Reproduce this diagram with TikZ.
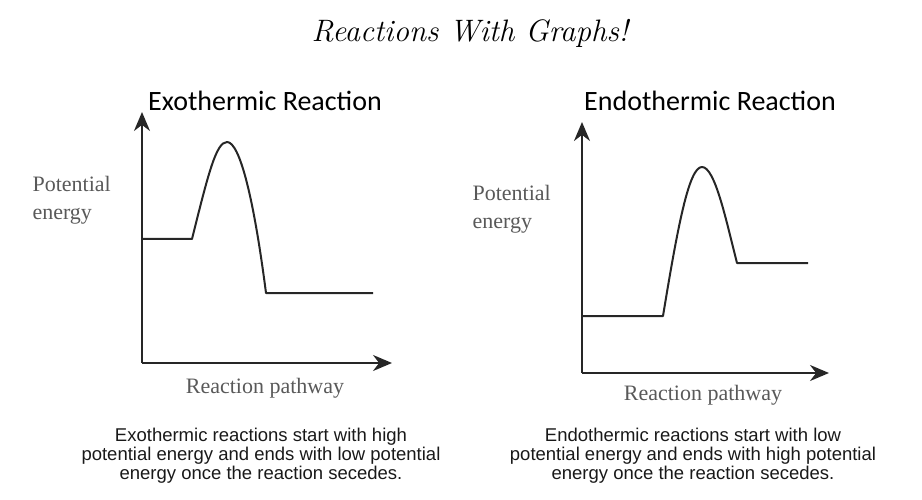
\documentclass[tikz,border=0pt]{standalone}
\usepackage{fontspec}
\usepackage{tikz}
\usetikzlibrary{arrows.meta, positioning}
\newfontfamily\headfont{Carlito}
\newfontfamily\axisfont{Liberation Serif}
\newfontfamily\notefont{Liberation Sans}

\begin{document}
\begin{tikzpicture}[x=1pt, y=-1pt,
    axis/.style={line width=2.4pt, draw=black!85, -{Stealth[length=19pt, width=16pt]}},
    curve/.style={line width=2pt, draw=black!85, line join=round},
    charttitle/.style={font=\headfont\fontsize{28}{32}\selectfont},
    axislabel/.style={font=\axisfont\fontsize{22}{28}\selectfont, text=black!65, align=left, anchor=west},
    pathlabel/.style={font=\axisfont\fontsize{22}{26}\selectfont, text=black!65},
    note/.style={font=\notefont\fontsize{18.5}{19}\selectfont, align=center, text=black!90}]

\useasboundingbox (0,0) rectangle (922,500);

% ── Heading ──────────────────────────────────────────────────────
\node[font=\itshape\fontsize{31}{34}\selectfont] (heading) at (470, 33) {Reactions With Graphs!};

% ── EXOTHERMIC ───────────────────────────────────────────────────
\node[charttitle] (exotitle) at (265, 101) {Exothermic Reaction};
\coordinate (exoO) at (142, 363);
\coordinate (exoY) at (142, 112);
\coordinate (exoX) at (392, 363);
\draw[axis] (exoO) -- (exoY);
\draw[axis] (exoO) -- (exoX);

% Energy profile
\coordinate (exoA) at (142, 239);
\coordinate (exoB) at (192, 239);
\coordinate (exoP) at (227, 142);
\coordinate (exoC) at (266, 293);
\coordinate (exoD) at (373, 293);
\draw[curve] (exoA) -- (exoB)
    .. controls (208, 175) and (216, 142) .. (exoP)
    .. controls (240, 142) and (254, 200) .. (exoC) -- (exoD);

\node[axislabel] (exopot) at (29, 200) {Potential\\energy};
\node[pathlabel] (exopath) at (265, 388) {Reaction pathway};

\node[note] (exonote) at (261, 456)
    {Exothermic reactions start with high\\
    potential energy and ends with low potential\\
    energy once the reaction secedes.};

% ── ENDOTHERMIC ──────────────────────────────────────────────────
\node[charttitle] (endotitle) at (710, 101) {Endothermic Reaction};
\coordinate (endoO) at (582, 373);
\coordinate (endoY) at (582, 122);
\coordinate (endoX) at (829, 373);
\draw[axis] (endoO) -- (endoY);
\draw[axis] (endoO) -- (endoX);

% Energy profile
\coordinate (endoA) at (582, 316);
\coordinate (endoB) at (663, 316);
\coordinate (endoP) at (702, 167);
\coordinate (endoC) at (737, 263);
\coordinate (endoD) at (808, 263);
\draw[curve] (endoA) -- (endoB)
    .. controls (678, 225) and (689, 167) .. (endoP)
    .. controls (715, 167) and (726, 220) .. (endoC) -- (endoD);

\node[axislabel] (endopot) at (469, 209) {Potential\\energy};
\node[pathlabel] (endopath) at (703, 395) {Reaction pathway};

\node[note] (endonote) at (693, 456)
    {Endothermic reactions start with low\\
    potential energy and ends with high potential\\
    energy once the reaction secedes.};

\end{tikzpicture}
\end{document}
